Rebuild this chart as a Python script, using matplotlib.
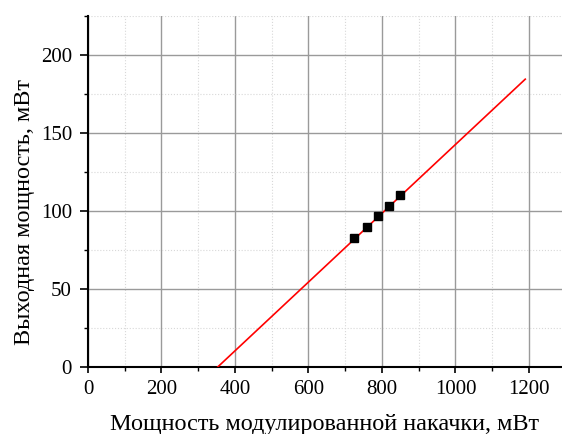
import matplotlib
matplotlib.use("Agg")
import matplotlib.pyplot as plt
from matplotlib.ticker import MultipleLocator

plt.rcParams['font.family'] = ['Liberation Serif', 'DejaVu Serif']

pump_x = [725, 759, 789, 819, 850]
power_y = [82.9, 89.7, 96.6, 103.2, 110.0]
fit_x = [353, 1190]
fit_y = [0, 184.5]

fig = plt.figure(figsize=(5.62, 4.34), dpi=100)
ax = fig.add_axes([88/562, 67/434, 474/562, 351/434])

ax.plot(fit_x, fit_y, color='red', lw=1.2, zorder=3)
ax.plot(pump_x, power_y, 's', color='black', ms=6, zorder=4)

ax.set_xlim(0, 1290)
ax.set_ylim(0, 225)
ax.xaxis.set_major_locator(MultipleLocator(200))
ax.xaxis.set_minor_locator(MultipleLocator(100))
ax.yaxis.set_major_locator(MultipleLocator(50))
ax.yaxis.set_minor_locator(MultipleLocator(25))

ax.grid(which='major', color='#9a9a9a', lw=1.0)
ax.grid(which='minor', color='#d8d8d8', lw=0.8, ls=':')
ax.set_axisbelow(True)

for s in ['top', 'right']:
    ax.spines[s].set_visible(False)
for s in ['left', 'bottom']:
    ax.spines[s].set_linewidth(1.5)
    ax.spines[s].set_color('black')

ax.tick_params(axis='x', which='major', direction='out', length=4.5, width=1.2, labelsize=15, pad=4.5)
ax.tick_params(axis='y', which='major', direction='out', length=6, width=1.2, labelsize=15, pad=5.5)
ax.tick_params(which='minor', direction='out', length=3, width=1.0)

ax.set_xlabel('Мощность модулированной накачки, мВт', fontsize=17.5, labelpad=11)
ax.set_ylabel('Выходная мощность, мВт', fontsize=17.5, labelpad=4, y=0.44)

fig.savefig('out.png', dpi=100)
